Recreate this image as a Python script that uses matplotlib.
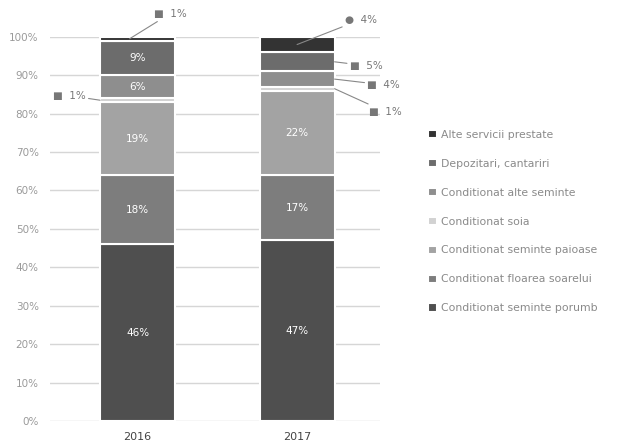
import matplotlib
matplotlib.use("Agg")
import matplotlib.pyplot as plt
import numpy as np

years = ["2016", "2017"]
series_names = [
    "Conditionat seminte porumb",
    "Conditionat floarea soarelui",
    "Conditionat seminte paioase",
    "Conditionat soia",
    "Conditionat alte seminte",
    "Depozitari, cantariri",
    "Alte servicii prestate",
]
porumb = [46, 47]
floarea = [18, 17]
paioase = [19, 22]
soia = [1, 1]
alte_seminte = [6, 4]
depozitari = [9, 5]
alte_servicii = [1, 4]
yticks = [0, 10, 20, 30, 40, 50, 60, 70, 80, 90, 100]
ytick_labels = ["0%", "10%", "20%", "30%", "40%", "50%", "60%", "70%", "80%", "90%", "100%"]

values = [porumb, floarea, paioase, soia, alte_seminte, depozitari, alte_servicii]
colors = ["#4f4f4f", "#7d7d7d", "#a3a3a3", "#d2d2d2", "#8e8e8e", "#6c6c6c", "#333333"]

fig = plt.figure(figsize=(6.23, 4.44), dpi=100)
ax = fig.add_axes([0.08, 0.052, 0.53, 0.865])

x = np.arange(len(years))
width = 0.47
bottom = np.zeros(len(years))
bars = []
for vals, col, name in zip(values, colors, series_names):
    b = ax.bar(x, vals, width, bottom=bottom, color=col, edgecolor="white",
               linewidth=1.5, label=name, zorder=3)
    bars.append((b, np.array(vals), bottom.copy()))
    bottom = bottom + np.array(vals)

ax.set_ylim(0, 100)
ax.set_xlim(-0.55, 1.52)
ax.set_yticks(yticks)
ax.set_yticklabels(ytick_labels, color="#9a9a9a", fontsize=7.5)
ax.set_xticks(x)
ax.set_xticklabels(years, color="#444444", fontsize=8)
ax.tick_params(length=0, pad=8)
ax.grid(axis="y", color="#d6d6d6", linewidth=1, zorder=0)
for s in ax.spines.values():
    s.set_visible(False)

# inside labels
inside = {
    0: [0, 1, 2, 4, 5],
    1: [0, 1, 2],
}
for xi, idxs in inside.items():
    for si in idxs:
        b, vals, bot = bars[si]
        ax.text(x[xi], bot[xi] + vals[xi] / 2, f"{vals[xi]}%", ha="center",
                va="center", color="white", fontsize=7.5, zorder=5)

arrow = dict(arrowstyle="-", color="#888888", lw=0.8, shrinkA=0, shrinkB=0)

def outside(xi, si, xy_dx, text_xy, label, marker="■"):
    b, vals, bot = bars[si]
    yv = bot[xi] + vals[xi] / 2
    ax.annotate(f"{marker}  {label}", xy=(x[xi] + xy_dx, yv), xytext=text_xy,
                fontsize=7.5, color="#777777", va="center", ha="left",
                arrowprops=arrow, zorder=6, annotation_clip=False)

outside(0, 6, -0.05, (0.1, 106), "1%")
outside(0, 3, -width / 2, (-0.53, 84.7), "1%")
outside(1, 6, 0.0, (1.3, 104.5), "4%", marker="●")
outside(1, 5, width / 2, (1.33, 92.5), "5%")
outside(1, 4, width / 2, (1.44, 87.5), "4%")
outside(1, 3, width / 2, (1.45, 80.5), "1%")

handles, labels = ax.get_legend_handles_labels()
leg = fig.legend(handles[::-1], labels[::-1], loc="upper left",
                 bbox_to_anchor=(0.672, 0.73), frameon=False, fontsize=7.8,
                 handlelength=0.8, handleheight=0.8, handletextpad=0.4,
                 labelspacing=1.75, labelcolor="#8a8a8a")

fig.savefig("out.png", dpi=100)
